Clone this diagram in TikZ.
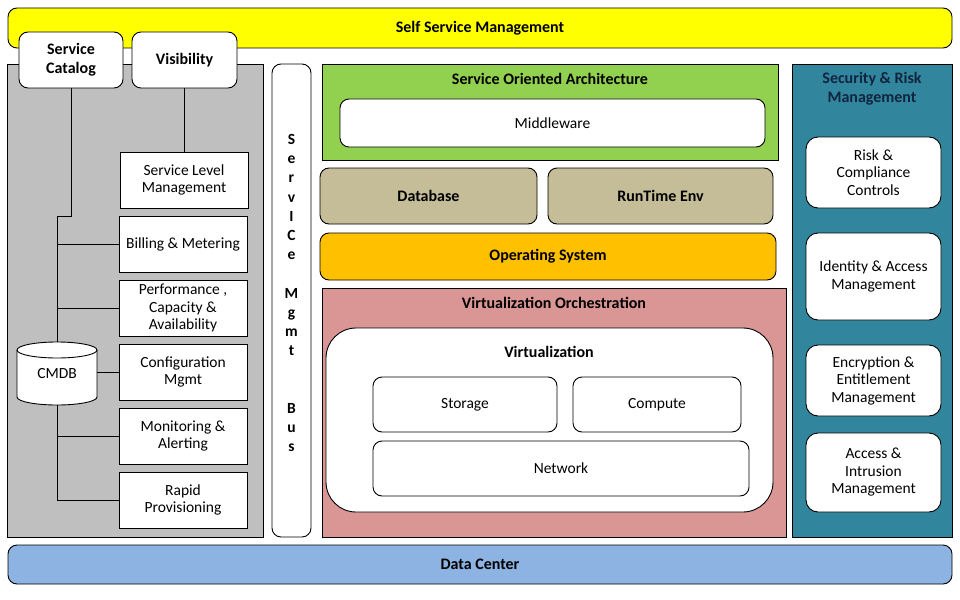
\documentclass[tikz,border=0pt]{standalone}
\usepackage{fontspec}
\setmainfont{Carlito}
\usetikzlibrary{calc}
\definecolor{cyel}{HTML}{FFFF00}
\definecolor{cgray}{HTML}{BFBFBF}
\definecolor{cgreen}{HTML}{92D050}
\definecolor{ctan}{HTML}{C4BD97}
\definecolor{corange}{HTML}{FFC000}
\definecolor{cpink}{HTML}{D99694}
\definecolor{cteal}{HTML}{31859C}
\definecolor{cblue}{HTML}{8DB3E2}
\definecolor{cnavy}{HTML}{10253F}
\tikzset{
  base/.style={draw=black, line width=0.9pt, inner sep=0pt, outer sep=0pt, align=center, font=\fontsize{15.5}{17.5}\selectfont},
  sq/.style={base, rectangle},
  rbox/.style={base, rounded corners=9pt},
  bf/.style={font=\fontsize{16}{19}\selectfont\bfseries},
  ttl/.style={inner sep=0pt, align=center, font=\fontsize{16}{19}\selectfont\bfseries},
  conn/.style={draw=black, line width=0.9pt}
}
\begin{document}
\begin{tikzpicture}[x=1pt,y=-1pt]
\useasboundingbox (0,0) rectangle (960,599);
\fill[white] (0,0) rectangle (960,599);
% top bar
\node[rbox, fill=cyel, minimum width=944, minimum height=40, bf] (ssm) at (480,28) {Self Service Management};
% left panel
\node[sq, fill=cgray, minimum width=256, minimum height=473] (left) at (135,300.5) {};
\node[rbox, fill=white, minimum width=104, minimum height=56, bf] (sc) at (71,60) {Service\\Catalog};
\node[rbox, fill=white, minimum width=105, minimum height=56, bf] (vis) at (184.5,60) {Visibility};
\node[sq, fill=white, minimum width=128, minimum height=56] (slm) at (184,180) {Service Level\\Management};
\node[sq, fill=white, minimum width=128, minimum height=56] (bill) at (183,244) {Billing \& Metering};
\node[sq, fill=white, minimum width=128, minimum height=56] (perf) at (183,308) {Performance ,\\Capacity \&\\Availability};
\node[sq, fill=white, minimum width=128, minimum height=56] (conf) at (183,372) {Configuration\\Mgmt};
\node[sq, fill=white, minimum width=128, minimum height=56] (mon) at (183,436) {Monitoring \&\\Alerting};
\node[sq, fill=white, minimum width=128, minimum height=56] (rapid) at (183,500) {Rapid\\Provisioning};
% CMDB cylinder
\draw[fill=white, line width=0.9pt] (17,350) -- (17,397) arc[start angle=180, end angle=0, x radius=40, y radius=8] -- (97,350) arc[start angle=0, end angle=-180, x radius=40, y radius=8] -- cycle;
\draw[line width=0.9pt] (17,350) arc[start angle=180, end angle=0, x radius=40, y radius=8];
\node[inner sep=0pt, outer sep=0pt, minimum width=80, minimum height=63, font=\fontsize{15.5}{17.5}\selectfont] (cmdb) at (57,373.5) {\raisebox{-3pt}{CMDB}};
% connectors
\coordinate (j1) at (57,216);
\draw[conn] (sc.south) -- (sc.south |- j1) -- (j1) -- (cmdb.north);
\draw[conn] (bill.west) -- (bill.west -| j1);
\draw[conn] (perf.west) -- (perf.west -| j1);
\draw[conn] (conf.west) -- (conf.west -| cmdb.east);
\draw[conn] (cmdb.south) |- (rapid.west);
\draw[conn] (mon.west) -- (mon.west -| cmdb.south);
\draw[conn] (vis.south) -- (vis.south |- slm.north);
% service mgmt bus
\node[rbox, fill=white, minimum width=39, minimum height=473] (bus) at (291.5,300.5) {};
\node[inner sep=0pt, align=center, font=\fontsize{15.5}{19.2}\selectfont\bfseries] (bustxt) at (291.5,293) {S\\e\\r\\v\\I\\C\\e\\[19.2pt]M\\g\\m\\t\\[38.4pt]B\\u\\s};
% SOA
\node[sq, fill=cgreen, minimum width=456, minimum height=96] (soa) at (550,112) {};
\node[ttl] (soat) at (550,79) {Service Oriented Architecture};
\node[rbox, fill=white, minimum width=425, minimum height=48] (mid) at (552.5,123) {Middleware};
% database / runtime
\node[rbox, fill=ctan, minimum width=217, minimum height=56, bf] (db) at (428.5,196) {Database};
\node[rbox, fill=ctan, minimum width=225, minimum height=56, bf] (rt) at (660.5,196) {RunTime Env};
% OS
\node[rbox, fill=corange, minimum width=456, minimum height=47, bf] (os) at (548,256.5) {Operating System};
% virtualization orchestration
\node[sq, fill=cpink, minimum width=464, minimum height=249] (vo) at (554,412.5) {};
\node[ttl] (vot) at (554,303) {Virtualization Orchestration};
\node[base, rounded corners=30pt, fill=white, minimum width=447, minimum height=184] (virt) at (549.5,420) {};
\node[ttl] (virtt) at (549,352) {Virtualization};
\node[rbox, fill=white, minimum width=184, minimum height=55] (stor) at (465,404.5) {Storage};
\node[rbox, fill=white, minimum width=168, minimum height=55] (comp) at (657,404.5) {Compute};
\node[rbox, fill=white, minimum width=376, minimum height=55] (net) at (561,468.5) {Network};
% security
\node[sq, fill=cteal, minimum width=160, minimum height=473] (sec) at (872,300.5) {};
\node[ttl, text=cnavy] (sect) at (872,88.5) {Security \& Risk\\Management};
\node[base, rounded corners=12pt, fill=white, minimum width=135, minimum height=71] (risk) at (873.5,172.5) {Risk \&\\Compliance\\Controls};
\node[base, rounded corners=12pt, fill=white, minimum width=135, minimum height=87] (ident) at (873.5,276.5) {Identity \& Access\\Management};
\node[base, rounded corners=12pt, fill=white, minimum width=135, minimum height=71] (enc) at (873.5,380.5) {Encryption \&\\Entitlement\\Management};
\node[base, rounded corners=12pt, fill=white, minimum width=135, minimum height=79] (acc) at (873.5,472.5) {Access \&\\Intrusion\\Management};
% data center
\node[rbox, fill=cblue, minimum width=944, minimum height=39, bf] (dc) at (480,564.5) {Data Center};
\end{tikzpicture}
\end{document}
